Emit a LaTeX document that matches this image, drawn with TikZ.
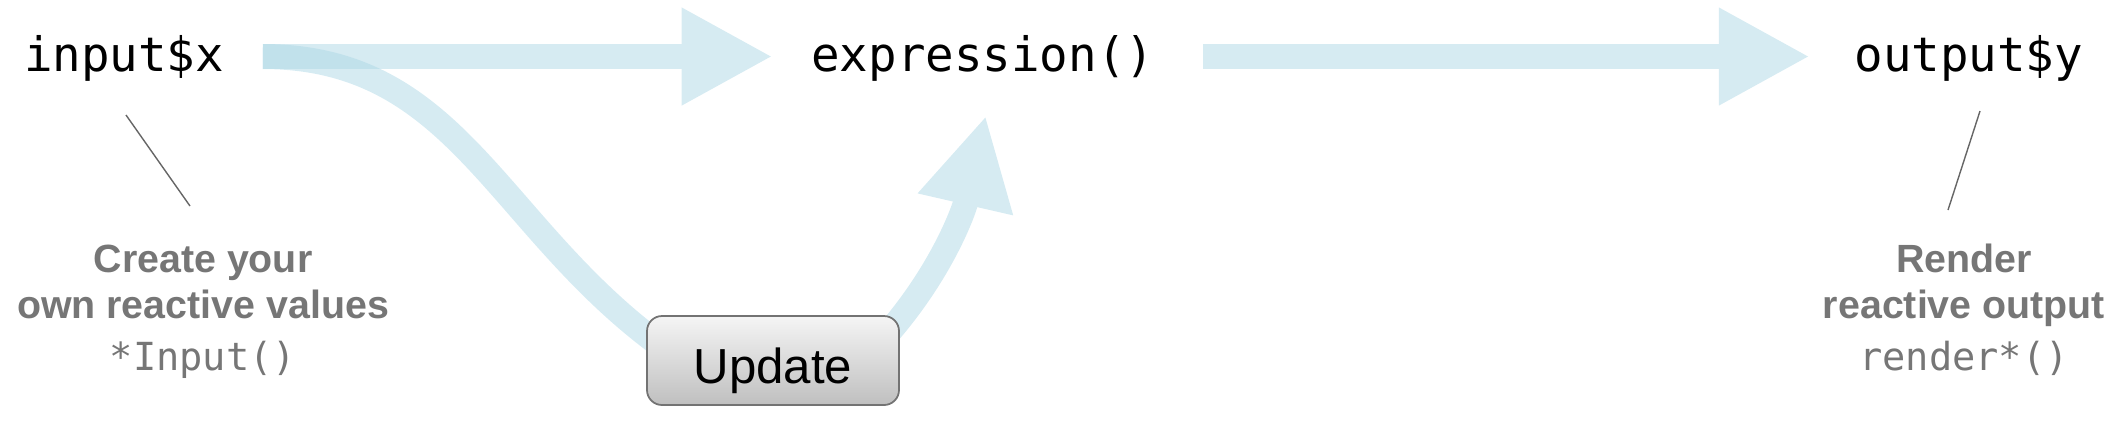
\documentclass[tikz,border=0pt]{standalone}
\usepackage{fontspec}
\setmainfont{Liberation Sans}
\setmonofont{DejaVu Sans Mono}
\usepackage{tikz}
\usetikzlibrary{arrows.meta,positioning}

\definecolor{flowblue}{RGB}{173,216,230}
\colorlet{flowpale}{flowblue!50}
\definecolor{notegray}{RGB}{118,118,118}

\pgfdeclarelayer{bg}
\pgfsetlayers{bg,main}

\begin{document}
\begin{tikzpicture}[
    code/.style={font=\fontsize{13.5}{16}\ttfamily, text height=10.8pt, text depth=2pt, inner xsep=0.38cm, inner ysep=0pt},
    notehead/.style={font=\fontsize{11.2}{13}\bfseries, text=notegray, anchor=base, inner sep=0pt},
    notecode/.style={font=\fontsize{11}{13}\ttfamily, text=notegray, anchor=base, inner sep=0pt},
    button/.style={rectangle, draw=black!55, line width=0.5pt, rounded corners=0.15cm, top color=black!4, bottom color=black!25, minimum width=2.52cm, minimum height=0.89cm, text height=12.8pt, text depth=0pt, inner sep=0pt, font=\fontsize{14}{16}\selectfont},
    flow/.style={draw=flowpale, line width=0.25cm, -{Triangle[length=0.91cm, width=0.91cm]}},
    leader/.style={draw=black!60, line width=0.4pt}
]
    \useasboundingbox (0,0) rectangle (21.24,-4.26);

    % main row
    \node[code] (input) at (1.24,-0.565) {input\$x};
    \node[code, right=5.1cm of input] (expr) {expression()};
    \node[code, right=6.23cm of expr] (output) {output\$y};

    \node[button] (update) at (7.73,-3.605) {Update};

    % notes
    \node[notehead] (inA) at (2.03,-2.72) {Create your};
    \node[notehead] (inB) at ([yshift=-13.1pt]inA.base) {own reactive values};
    \node[notecode] (inC) at ([yshift=-14.8pt]inB.base) {*Input()};
    \node[notehead] (outA) at (19.64,-2.72) {Render};
    \node[notehead] (outB) at ([yshift=-13.1pt]outA.base) {reactive output};
    \node[notecode] (outC) at ([yshift=-14.8pt]outB.base) {render*()};

    \coordinate (inlead1) at (1.26,-1.15);
    \coordinate (inlead2) at (1.90,-2.06);
    \coordinate (outlead1) at (19.80,-1.11);
    \coordinate (outlead2) at (19.48,-2.10);
    \draw[leader] (inlead1) -- (inlead2);
    \draw[leader] (outlead1) -- (outlead2);

    \begin{pgfonlayer}{bg}
        \draw[flow] (input.east) -- (expr.west);
        \draw[flow, shorten <=0.1cm, shorten >=0.06cm] (expr.east) -- (output.west);
        \draw[draw=flowblue, draw opacity=0.5, line width=0.25cm]
            (input.east) .. controls +(2.09,0) and +(-2.0,1.22) .. ([xshift=-0.73cm,yshift=-0.115cm]update.center);
        \draw[flow]
            ([xshift=0.77cm,yshift=-0.115cm]update.center) .. controls +(0.8,0.72) and +(-0.23,-1.0) .. ([xshift=0.03cm,yshift=-0.36cm]expr.south);
    \end{pgfonlayer}
\end{tikzpicture}
\end{document}
